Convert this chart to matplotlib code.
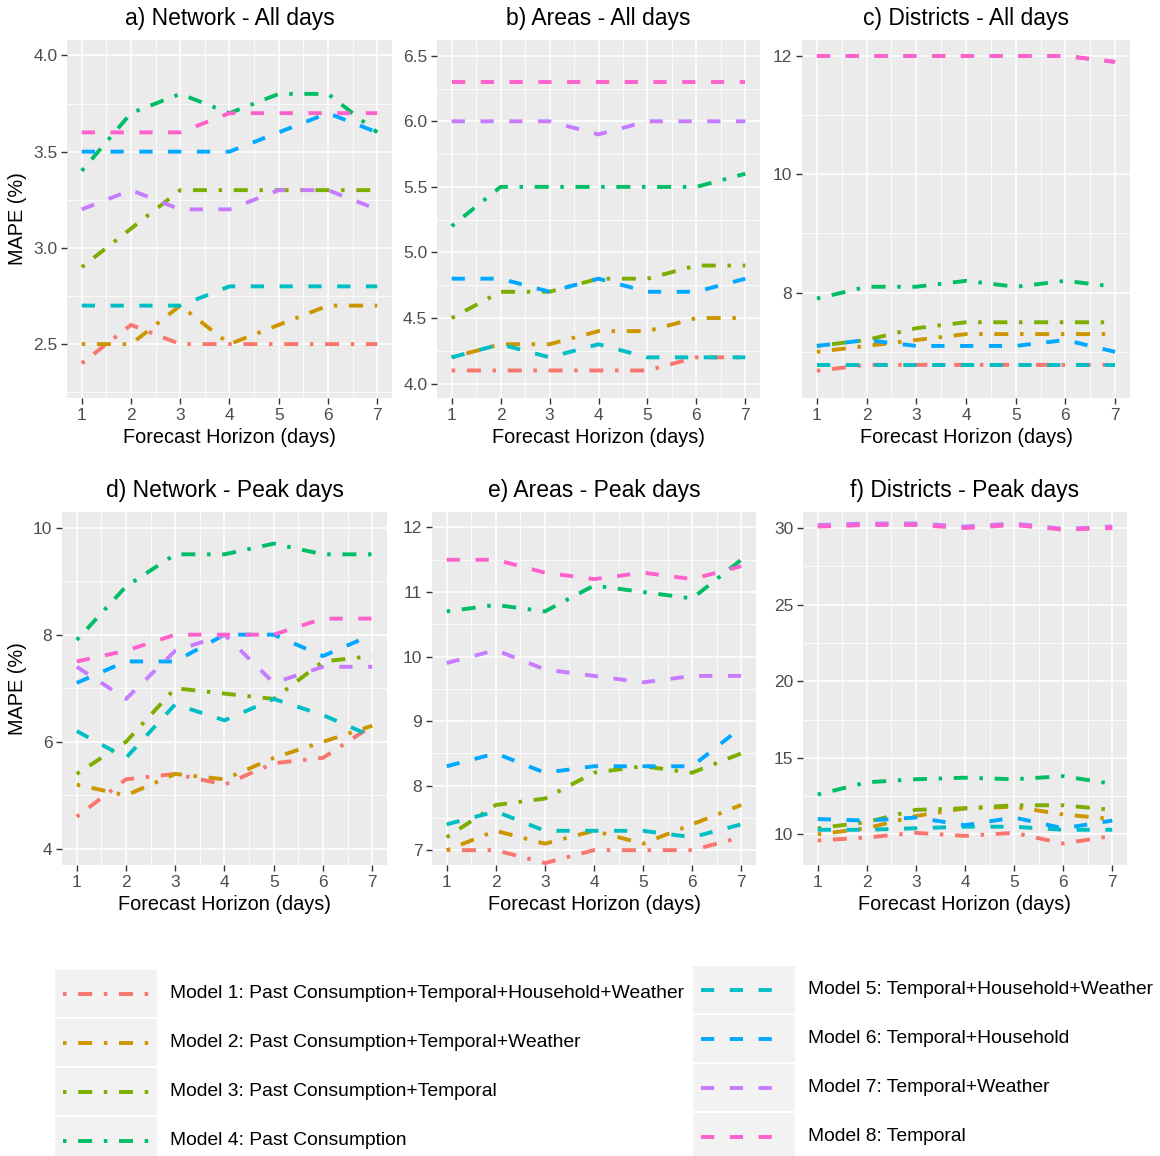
import matplotlib
matplotlib.use("Agg")
import matplotlib.pyplot as plt
from matplotlib.lines import Line2D
from matplotlib.patches import Rectangle

plt.rcParams['font.family'] = ['Liberation Sans', 'DejaVu Sans']

horizon = [1, 2, 3, 4, 5, 6, 7]

model_labels = [
    "Model 1: Past Consumption+Temporal+Household+Weather",
    "Model 2: Past Consumption+Temporal+Weather",
    "Model 3: Past Consumption+Temporal",
    "Model 4: Past Consumption",
    "Model 5: Temporal+Household+Weather",
    "Model 6: Temporal+Household",
    "Model 7: Temporal+Weather",
    "Model 8: Temporal",
]
model_colors = ["#F8766D", "#CD9600", "#7CAE00", "#00BE67",
                "#00BFC4", "#00A9FF", "#C77CFF", "#FF61CC"]

panel_titles = ["a) Network - All days", "b) Areas - All days", "c) Districts - All days",
                "d) Network - Peak days", "e) Areas - Peak days", "f) Districts - Peak days"]

# a) Network - All days
net_all = [
    [2.4, 2.6, 2.5, 2.5, 2.5, 2.5, 2.5],
    [2.5, 2.5, 2.7, 2.5, 2.6, 2.7, 2.7],
    [2.9, 3.1, 3.3, 3.3, 3.3, 3.3, 3.3],
    [3.4, 3.7, 3.8, 3.7, 3.8, 3.8, 3.6],
    [2.7, 2.7, 2.7, 2.8, 2.8, 2.8, 2.8],
    [3.5, 3.5, 3.5, 3.5, 3.6, 3.7, 3.6],
    [3.2, 3.3, 3.2, 3.2, 3.3, 3.3, 3.2],
    [3.6, 3.6, 3.6, 3.7, 3.7, 3.7, 3.7],
]
# b) Areas - All days
areas_all = [
    [4.1, 4.1, 4.1, 4.1, 4.1, 4.2, 4.2],
    [4.2, 4.3, 4.3, 4.4, 4.4, 4.5, 4.5],
    [4.5, 4.7, 4.7, 4.8, 4.8, 4.9, 4.9],
    [5.2, 5.5, 5.5, 5.5, 5.5, 5.5, 5.6],
    [4.2, 4.3, 4.2, 4.3, 4.2, 4.2, 4.2],
    [4.8, 4.8, 4.7, 4.8, 4.7, 4.7, 4.8],
    [6.0, 6.0, 6.0, 5.9, 6.0, 6.0, 6.0],
    [6.3, 6.3, 6.3, 6.3, 6.3, 6.3, 6.3],
]
# c) Districts - All days
districts_all = [
    [6.68, 6.78, 6.78, 6.78, 6.78, 6.78, 6.78],
    [7.0, 7.1, 7.2, 7.3, 7.3, 7.3, 7.3],
    [7.1, 7.2, 7.4, 7.5, 7.5, 7.5, 7.5],
    [7.9, 8.1, 8.1, 8.2, 8.1, 8.2, 8.1],
    [6.78, 6.78, 6.78, 6.78, 6.78, 6.78, 6.78],
    [7.1, 7.2, 7.1, 7.1, 7.1, 7.2, 7.0],
    [12.0, 12.0, 12.0, 12.0, 12.0, 12.0, 11.9],
    [12.0, 12.0, 12.0, 12.0, 12.0, 12.0, 11.9],
]
# d) Network - Peak days
net_peak = [
    [4.6, 5.3, 5.4, 5.2, 5.6, 5.7, 6.3],
    [5.2, 5.0, 5.4, 5.3, 5.7, 6.0, 6.3],
    [5.4, 6.0, 7.0, 6.9, 6.8, 7.5, 7.6],
    [7.9, 8.9, 9.5, 9.5, 9.7, 9.5, 9.5],
    [6.2, 5.7, 6.7, 6.4, 6.8, 6.5, 6.1],
    [7.1, 7.5, 7.5, 8.0, 8.0, 7.6, 8.0],
    [7.4, 6.8, 7.7, 8.0, 7.1, 7.4, 7.4],
    [7.5, 7.7, 8.0, 8.0, 8.0, 8.3, 8.3],
]
# e) Areas - Peak days
areas_peak = [
    [7.0, 7.0, 6.8, 7.0, 7.0, 7.0, 7.2],
    [7.0, 7.3, 7.1, 7.3, 7.1, 7.4, 7.7],
    [7.2, 7.7, 7.8, 8.2, 8.3, 8.2, 8.5],
    [10.7, 10.8, 10.7, 11.1, 11.0, 10.9, 11.5],
    [7.4, 7.6, 7.3, 7.3, 7.3, 7.2, 7.4],
    [8.3, 8.5, 8.2, 8.3, 8.3, 8.3, 8.9],
    [9.9, 10.1, 9.8, 9.7, 9.6, 9.7, 9.7],
    [11.5, 11.5, 11.3, 11.2, 11.3, 11.2, 11.4],
]
# f) Districts - Peak days
districts_peak = [
    [9.6, 9.8, 10.1, 9.9, 10.1, 9.4, 9.9],
    [10.0, 10.4, 11.2, 11.7, 11.8, 11.3, 11.0],
    [10.4, 10.8, 11.6, 11.7, 11.9, 11.9, 11.6],
    [12.6, 13.4, 13.6, 13.7, 13.6, 13.8, 13.3],
    [10.3, 10.3, 10.4, 10.5, 10.5, 10.3, 10.3],
    [11.0, 10.9, 11.1, 10.6, 11.1, 10.4, 10.9],
    [30.2, 30.3, 30.3, 30.1, 30.3, 29.95, 30.1],
    [30.1, 30.2, 30.2, 30.0, 30.2, 29.9, 30.0],
]

panel_data = [net_all, areas_all, districts_all, net_peak, areas_peak, districts_peak]

y_limits = [(2.22, 4.08), (3.89, 6.62), (6.22, 12.27),
            (3.70, 10.29), (6.77, 12.24), (8.0, 31.05)]
y_major = [[2.5, 3.0, 3.5, 4.0], [4.0, 4.5, 5.0, 5.5, 6.0, 6.5], [8, 10, 12],
           [4, 6, 8, 10], [7, 8, 9, 10, 11, 12], [10, 15, 20, 25, 30]]
y_ticklabels = [["2.5", "3.0", "3.5", "4.0"], ["4.0", "4.5", "5.0", "5.5", "6.0", "6.5"],
                ["8", "10", "12"], ["4", "6", "8", "10"],
                ["7", "8", "9", "10", "11", "12"], ["10", "15", "20", "25", "30"]]

W, H = 1160, 1156
fig = plt.figure(figsize=(W / 100, H / 100), dpi=100)

# panel boxes in pixels: left, right, top, bottom
boxes = [(67, 392, 40, 398), (437, 760, 40, 398), (802, 1130, 40, 398),
         (62, 387, 512, 865), (432, 756, 512, 865), (803, 1127, 512, 865)]

dashdot = (0, (0.9, 3, 3.6, 3))
dashed = (0, (3.4, 4))
styles = [dashdot] * 4 + [dashed] * 4
LW = 2.8

for i, (l, r, t, b) in enumerate(boxes):
    ax = fig.add_axes([l / W, 1 - b / H, (r - l) / W, (b - t) / H])
    ax.set_facecolor("#EBEBEB")
    for s in ax.spines.values():
        s.set_visible(False)
    ax.set_xlim(0.7, 7.3)
    ax.set_ylim(*y_limits[i])
    ax.set_xticks(horizon)
    ax.set_xticks([1.5, 2.5, 3.5, 4.5, 5.5, 6.5], minor=True)
    maj = y_major[i]
    step = maj[1] - maj[0]
    minors = [maj[0] - step / 2] + [m + step / 2 for m in maj]
    minors = [m for m in minors if y_limits[i][0] < m < y_limits[i][1]]
    ax.set_yticks(maj)
    ax.set_yticklabels(y_ticklabels[i])
    ax.set_yticks(minors, minor=True)
    ax.grid(which="major", color="white", linewidth=1.1)
    ax.grid(which="minor", color="white", linewidth=0.55)
    ax.set_axisbelow(True)
    ax.tick_params(which="major", length=4, width=1.0, color="#333333",
                   labelcolor="#4D4D4D", labelsize=12.5, pad=3)
    ax.tick_params(which="minor", length=0)
    for m in range(8):
        ax.plot(horizon, panel_data[i][m], color=model_colors[m], linestyle=styles[m],
                linewidth=LW, dash_capstyle="butt", solid_capstyle="butt")
    ax.set_title(panel_titles[i], fontsize=16.5, pad=10.5, color="black")
    ax.set_xlabel("Forecast Horizon (days)", fontsize=14.3, labelpad=4)
    if i in (0, 3):
        ax.set_ylabel("MAPE (%)", fontsize=14.3, labelpad=4)

# legend drawn in a full-figure pixel-coordinate overlay
lg = fig.add_axes([0, 0, 1, 1])
lg.set_xlim(0, W)
lg.set_ylim(H, 0)
lg.axis("off")
col_x = [(55, 157, 170), (693, 795, 808)]
row_tops = [[970, 1019, 1068, 1117], [966, 1015, 1064, 1113]]
row_h = 47
for c in range(2):
    kx0, kx1, tx = col_x[c]
    for k in range(4):
        m = c * 4 + k
        top = row_tops[c][k]
        lg.add_patch(Rectangle((kx0, top), kx1 - kx0, row_h, facecolor="#F2F2F2",
                               edgecolor="none"))
        yc = top + row_h / 2
        lg.add_line(Line2D([kx0 + 8, kx1 - 8], [yc, yc], color=model_colors[m],
                           linestyle=styles[m], linewidth=LW, dash_capstyle="butt"))
        lg.text(tx, yc, model_labels[m], fontsize=13.9, va="center", ha="left",
                color="black")

fig.savefig("out.png", dpi=100)
